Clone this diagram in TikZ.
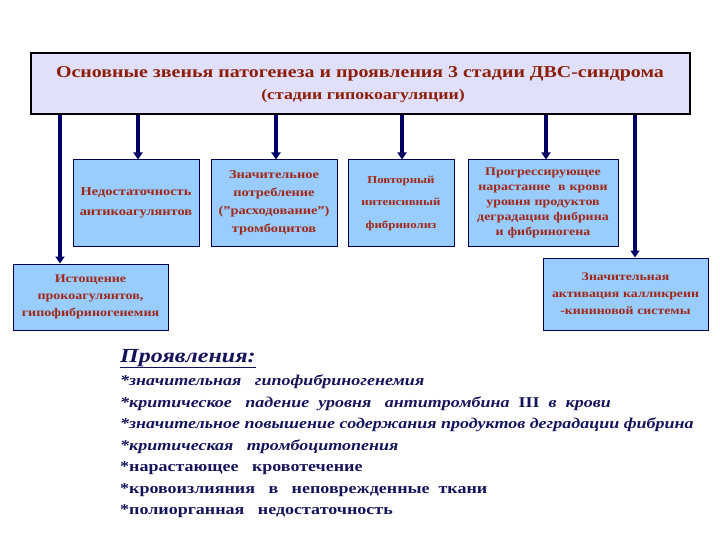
\documentclass[tikz,border=0pt]{standalone}
\usepackage{fontspec}
\setmainfont{Liberation Serif}[FakeStretch=1.2]
\usetikzlibrary{arrows.meta}
\definecolor{topfill}{RGB}{224,224,250}
\definecolor{boxfill}{RGB}{153,204,255}
\definecolor{navy}{RGB}{0,0,102}
\definecolor{redtxt}{RGB}{160,40,25}
\definecolor{titletxt}{RGB}{140,30,10}
\definecolor{bluetxt}{RGB}{20,20,90}
\tikzset{
  topbox/.style={draw=black, line width=1.2pt, fill=topfill, minimum width=659pt, minimum height=61pt, inner sep=0pt},
  infobox/.style={draw=navy!80!black, line width=1pt, fill=boxfill, inner sep=1pt, align=center,
     text=redtxt, font=\bfseries\fontsize{12}{18}\selectfont},
  arr/.style={draw=navy, line width=3.5pt, -{Triangle[width=9pt,length=7pt]}},
  item/.style={anchor=base west, inner sep=0pt, text=bluetxt, font=\bfseries\fontsize{15}{16}\selectfont},
  itemit/.style={item, font=\bfseries\itshape\fontsize{15}{16}\selectfont},
}
\begin{document}
\begin{tikzpicture}[x=1pt,y=-1pt]
\useasboundingbox (0,0) rectangle (720,540);
\node[topbox] (top) at (360.5,83.5) {};
\node[anchor=base, text=titletxt, font=\bfseries\fontsize{16.6}{18}\selectfont, inner sep=0pt] (title) at (360,78) {Основные звенья патогенеза и проявления 3 стадии ДВС-синдрома};
\node[anchor=base, text=titletxt, font=\bfseries\fontsize{14.8}{15}\selectfont, inner sep=0pt] (subtitle) at (363,100) {(стадии гипокоагуляции)};

\node[infobox, minimum width=126pt, minimum height=86pt, text width=124pt, font=\bfseries\fontsize{12}{20}\selectfont] (n1) at (136,203) {Недостаточность\\антикоагулянтов};
\node[infobox, minimum width=126pt, minimum height=86pt, text width=124pt] (n2) at (274,203) {Значительное\\потребление\\(\char34расходование\char34)\\тромбоцитов};
\node[infobox, minimum width=106pt, minimum height=86pt, text width=104pt, font=\bfseries\fontsize{10.7}{22.5}\selectfont] (n3) at (401,203) {Повторный\\интенсивный\\фибринолиз};
\node[infobox, minimum width=150pt, minimum height=86pt, text width=148pt, font=\bfseries\fontsize{11.6}{15}\selectfont] (n4) at (543,203) {Прогрессирующее\\нарастание\ \ в крови\\уровня продуктов\\деградации фибрина\\и фибриногена};
\node[infobox, minimum width=155pt, minimum height=66pt, text width=153pt, font=\bfseries\fontsize{11.7}{17}\selectfont] (n5) at (90.5,297) {Истощение\\прокоагулянтов,\\гипофибриногенемия\\[2pt]};
\node[infobox, minimum width=165pt, minimum height=72pt, text width=163pt, font=\bfseries\fontsize{11.5}{17}\selectfont] (n6) at (625.5,294) {Значительная\\активация калликреин\\-кининовой системы\\[2pt]};

\coordinate (c5) at (60,0);
\coordinate (c6) at (635,0);
\coordinate (c1) at (138,0);
\coordinate (c2) at (276,0);
\coordinate (c3) at (402,0);
\coordinate (c4) at (546,0);
\draw[arr] (top.south -| c5) -- (n5.north -| c5);
\draw[arr] (top.south -| c1) -- (n1.north -| c1);
\draw[arr] (top.south -| c2) -- (n2.north -| c2);
\draw[arr] (top.south -| c3) -- (n3.north -| c3);
\draw[arr] (top.south -| c4) -- (n4.north -| c4);
\draw[arr] (top.south -| c6) -- (n6.north -| c6);

\node[item, font=\bfseries\itshape\fontsize{20}{22}\selectfont] (head) at (120,362) {\underline{Проявления:}};
\node[itemit] (i1) at (120,385) {*значительная\ \ \ гипофибриногенемия};
\node[itemit] (i2) at (120,407) {*критическое\ \ \ падение\ \ уровня\ \ \ антитромбина\ \ \upshape III\itshape\ \ в\ \ крови};
\node[itemit] (i3) at (120,428) {*значительное повышение содержания продуктов деградации фибрина};
\node[itemit] (i4) at (120,450) {*критическая\ \ \ тромбоцитопения};
\node[item] (i5) at (120,471) {*нарастающее\ \ \ кровотечение};
\node[item] (i6) at (120,493) {*кровоизлияния\ \ \ в\ \ \ неповрежденные\ \ ткани};
\node[item] (i7) at (120,514) {*полиорганная\ \ \ недостаточность};
\end{tikzpicture}
\end{document}
